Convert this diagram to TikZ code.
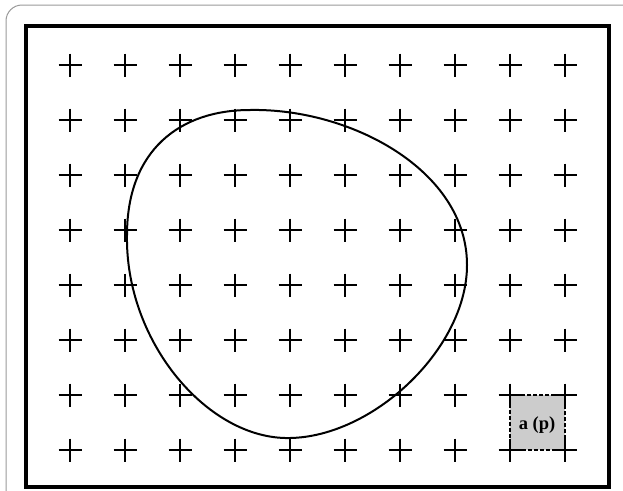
\documentclass[tikz,border=0pt]{standalone}
\usepackage{fontspec}
\setmainfont{Liberation Serif}
\begin{document}
\begin{tikzpicture}[x=1pt,y=-1pt,
  crossmark/.style={line width=2pt,black},
  blob/.style={line width=2pt,black},
  framebox/.style={line width=4.2pt,black},
  outerframe/.style={line width=1pt,draw=black!40,rounded corners=16pt},
  cellbox/.style={draw=black,dash pattern=on 4pt off 2pt,line width=1.3pt,fill=black!20,minimum size=55pt,inner sep=0pt},
  celllabel/.style={font=\fontsize{18.5}{20}\selectfont\bfseries}]
\useasboundingbox (0,0) rectangle (623,490);
\clip (0,0) rectangle (623,490);
\draw[outerframe] (6,5) rectangle (660,530);
\draw[framebox] (26,26) rectangle (609,487);
\node[cellbox] (cell) at (537.5,422.5) {};
\node[celllabel] (lbl) at (537,425) {a (p)};
\foreach \i in {0,...,9}{
  \foreach \j in {0,...,7}{
    \draw[crossmark] ({70+55*\i-11.5},{65+55*\j}) -- ++(23,0);
    \draw[crossmark] ({70+55*\i},{65+55*\j-11.5}) -- ++(0,23);
  }
}
\draw[blob] (250,110) .. controls (350,108) and (467,170) .. (467,265)
  .. controls (467,350) and (370,440) .. (285,438)
  .. controls (205,436) and (125,340) .. (127,235)
  .. controls (127,150) and (180,110) .. (250,110) -- cycle;
\end{tikzpicture}
\end{document}
